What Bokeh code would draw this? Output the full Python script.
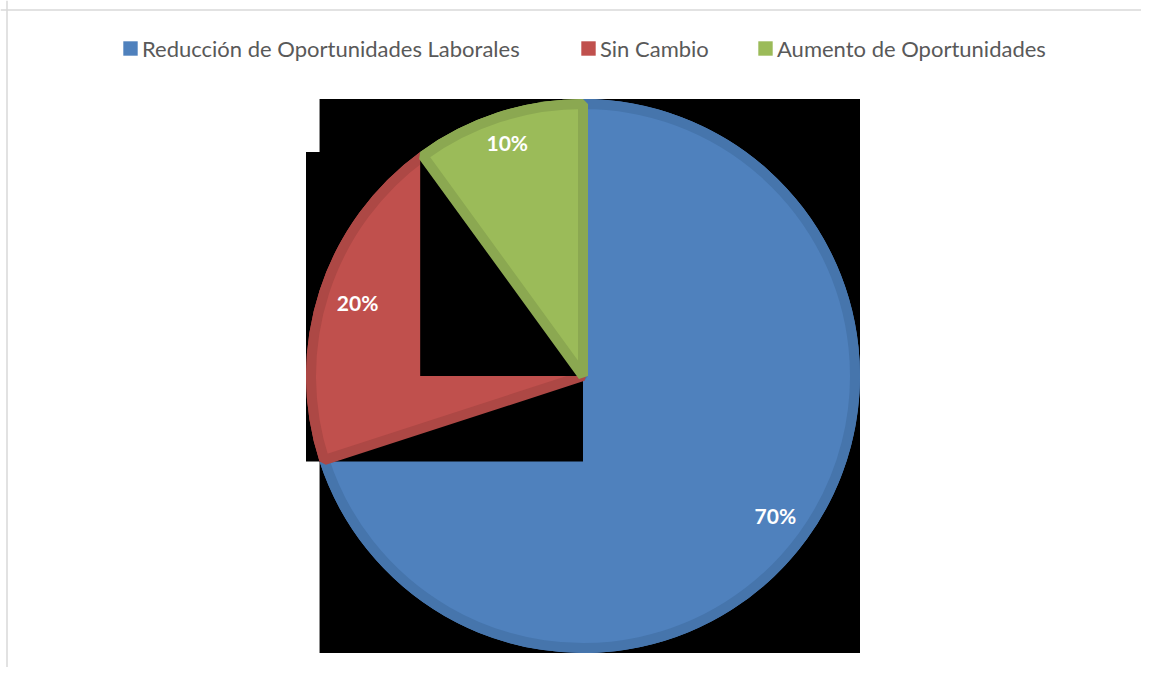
import math
from bokeh.plotting import figure
from bokeh.models import Range1d, Legend, LegendItem, Span
from bokeh.core.properties import value
from bokeh.embed import file_html
from bokeh.resources import INLINE

# ---- data ----
categories = ["Reducción de Oportunidades Laborales", "Sin Cambio", "Aumento de Oportunidades"]
shares = [70, 20, 10]
pct_labels = ["70%", "20%", "10%"]
fill_colors = ["#4F81BD", "#C0504D", "#9BBB59"]
edge_colors = ["#4675AC", "#AD4845", "#8BA851"]

# ---- layout ----
W, H = 1141, 667
CX, CY, R = 582.5, H - 375.5, 277.0
BAND = 10
LEGEND_X = [121, 579, 756]   # left edge of each legend entry (px)
LEGEND_CY = 48               # vertical centre of legend row (px from top)
LEG_H = 30

p = figure(width=W, height=H, output_backend="svg", toolbar_location=None,
           x_range=Range1d(0, W), y_range=Range1d(0, H), min_border=0,
           x_axis_location=None, y_axis_location=None)
p.grid.visible = False
p.outline_line_color = None
p.background_fill_color = "white"
p.border_fill_color = "white"

# chart-area border (top and left visible)
p.add_layout(Span(location=H - 9.5, dimension="width", line_color="#D9D9D9", line_width=1.5))
p.add_layout(Span(location=6.5, dimension="height", line_color="#D9D9D9", line_width=1.5))

total = float(sum(shares))
start = math.pi / 2
base_renderers = []
label_x, label_y = [], []
for cat, share, fc, ec in zip(categories, shares, fill_colors, edge_colors):
    sweep = 2 * math.pi * share / total
    a0, a1 = start - sweep, start
    # bounding box of the slice (rendered black, as in the source image)
    pts = [(CX, CY), (CX + R * math.cos(a0), CY + R * math.sin(a0)),
           (CX + R * math.cos(a1), CY + R * math.sin(a1))]
    k = math.ceil(a0 / (math.pi / 2))
    while k * (math.pi / 2) <= a1:
        ang = k * math.pi / 2
        pts.append((CX + R * math.cos(ang), CY + R * math.sin(ang)))
        k += 1
    xs = [q[0] for q in pts]
    ys = [q[1] for q in pts]
    p.quad(left=[min(xs)], right=[max(xs)], bottom=[min(ys)], top=[max(ys)],
           fill_color="black", line_color=None)
    base = p.wedge(x=[CX], y=[CY], radius=R, start_angle=a0, end_angle=a1,
                   fill_color=fc, line_color=None)
    p.wedge(x=[CX], y=[CY], radius=R - BAND / 2, start_angle=a0, end_angle=a1,
            fill_color=fc, line_color=ec, line_width=BAND, line_join="bevel")
    base_renderers.append(base)
    mid = (a0 + a1) / 2
    rr = R - 18 - (abs(math.cos(mid)) * 20.5 + abs(math.sin(mid)) * 8)
    label_x.append(CX + rr * math.cos(mid))
    label_y.append(CY + rr * math.sin(mid))
    start = a0

p.text(x=label_x, y=label_y, text=pct_labels, text_color="white",
       text_font=value("Lato"), text_font_style="bold", text_font_size="21px",
       text_align="center", text_baseline="middle")

for cat, rend, lx in zip(categories, base_renderers, LEGEND_X):
    leg = Legend(items=[LegendItem(label=cat, renderers=[rend])], orientation="horizontal",
                 location=(lx, H - LEGEND_CY - LEG_H / 2),
                 padding=0, margin=0, spacing=0, label_standoff=3,
                 glyph_width=18, glyph_height=18,
                 label_text_font="Lato", label_text_font_size="22px",
                 label_text_color="#595959", label_height=LEG_H,
                 border_line_color=None, background_fill_alpha=0)
    p.add_layout(leg)

open("out.html", "w").write(file_html(p, INLINE))
